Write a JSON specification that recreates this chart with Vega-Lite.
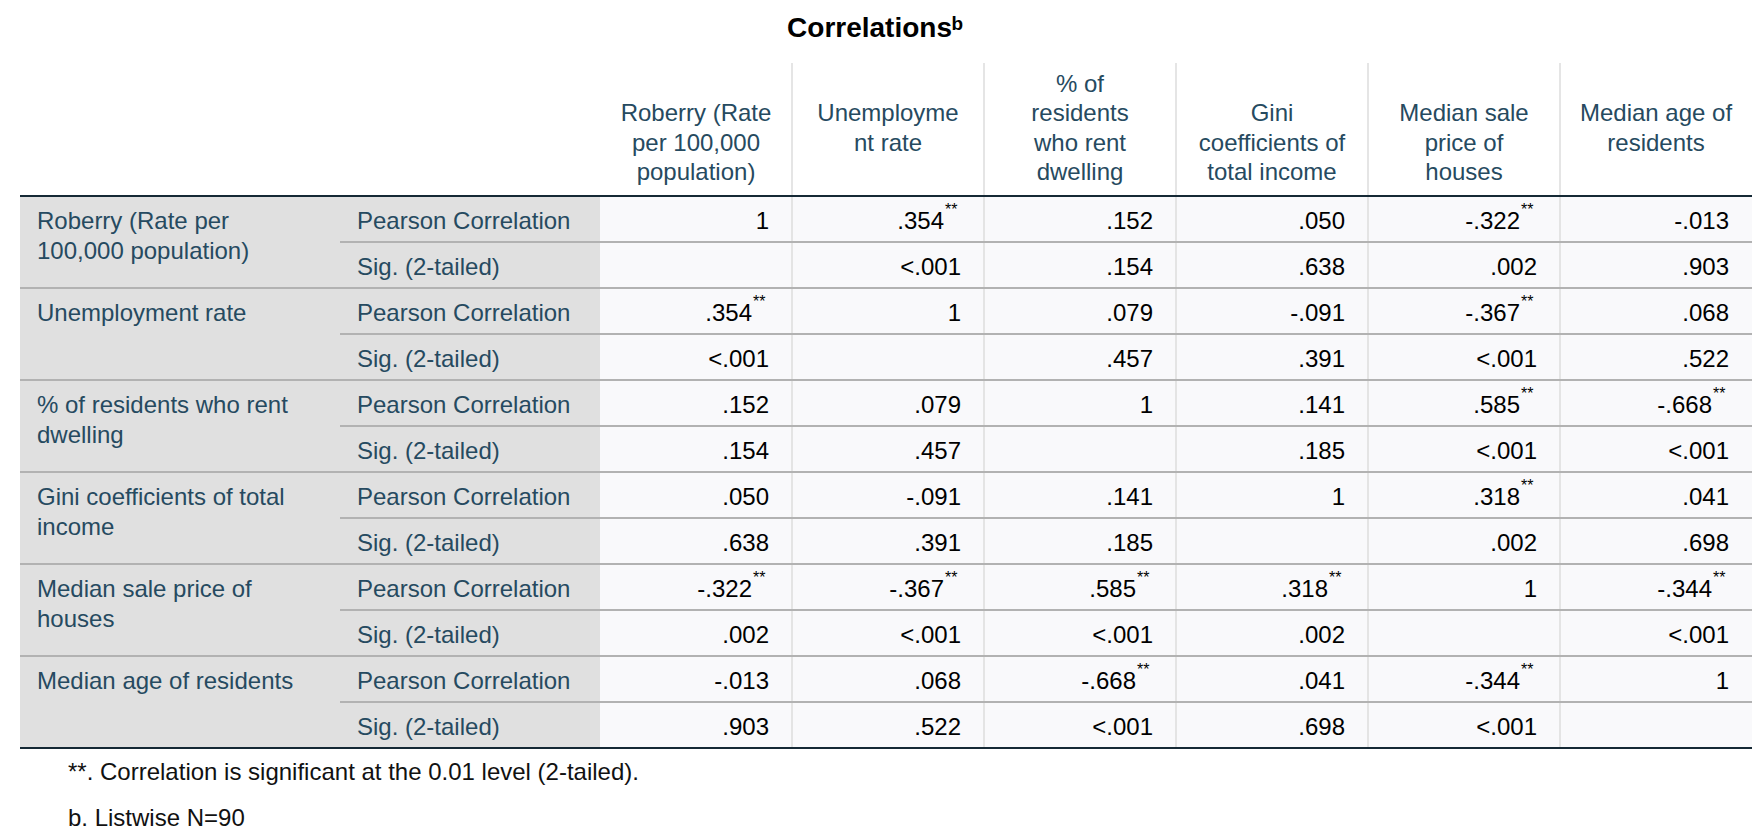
{
  "$schema": "https://vega.github.io/schema/vega-lite/v6.json",
  "width": 1764,
  "height": 780,
  "padding": {"top": 60, "left": 0, "right": 0, "bottom": 0},
  "autosize": {"type": "none"},
  "background": "#ffffff",
  "config": {"view": {"stroke": null}, "font": "Liberation Sans"},
  "title": {"text": "Correlationsᵇ", "font": "Liberation Sans", "fontSize": 28, "fontWeight": "bold", "color": "#000000", "anchor": "middle", "baseline": "alphabetic", "offset": 23, "dx": -7, "dy": 28},
  "datasets": {
    "cells": [
      {"r": 0, "c": 0, "v": "1"}, {"r": 0, "c": 1, "v": ".354", "s": "**"}, {"r": 0, "c": 2, "v": ".152"}, {"r": 0, "c": 3, "v": ".050"}, {"r": 0, "c": 4, "v": "-.322", "s": "**"}, {"r": 0, "c": 5, "v": "-.013"},
      {"r": 1, "c": 1, "v": "<.001"}, {"r": 1, "c": 2, "v": ".154"}, {"r": 1, "c": 3, "v": ".638"}, {"r": 1, "c": 4, "v": ".002"}, {"r": 1, "c": 5, "v": ".903"},
      {"r": 2, "c": 0, "v": ".354", "s": "**"}, {"r": 2, "c": 1, "v": "1"}, {"r": 2, "c": 2, "v": ".079"}, {"r": 2, "c": 3, "v": "-.091"}, {"r": 2, "c": 4, "v": "-.367", "s": "**"}, {"r": 2, "c": 5, "v": ".068"},
      {"r": 3, "c": 0, "v": "<.001"}, {"r": 3, "c": 2, "v": ".457"}, {"r": 3, "c": 3, "v": ".391"}, {"r": 3, "c": 4, "v": "<.001"}, {"r": 3, "c": 5, "v": ".522"},
      {"r": 4, "c": 0, "v": ".152"}, {"r": 4, "c": 1, "v": ".079"}, {"r": 4, "c": 2, "v": "1"}, {"r": 4, "c": 3, "v": ".141"}, {"r": 4, "c": 4, "v": ".585", "s": "**"}, {"r": 4, "c": 5, "v": "-.668", "s": "**"},
      {"r": 5, "c": 0, "v": ".154"}, {"r": 5, "c": 1, "v": ".457"}, {"r": 5, "c": 3, "v": ".185"}, {"r": 5, "c": 4, "v": "<.001"}, {"r": 5, "c": 5, "v": "<.001"},
      {"r": 6, "c": 0, "v": ".050"}, {"r": 6, "c": 1, "v": "-.091"}, {"r": 6, "c": 2, "v": ".141"}, {"r": 6, "c": 3, "v": "1"}, {"r": 6, "c": 4, "v": ".318", "s": "**"}, {"r": 6, "c": 5, "v": ".041"},
      {"r": 7, "c": 0, "v": ".638"}, {"r": 7, "c": 1, "v": ".391"}, {"r": 7, "c": 2, "v": ".185"}, {"r": 7, "c": 4, "v": ".002"}, {"r": 7, "c": 5, "v": ".698"},
      {"r": 8, "c": 0, "v": "-.322", "s": "**"}, {"r": 8, "c": 1, "v": "-.367", "s": "**"}, {"r": 8, "c": 2, "v": ".585", "s": "**"}, {"r": 8, "c": 3, "v": ".318", "s": "**"}, {"r": 8, "c": 4, "v": "1"}, {"r": 8, "c": 5, "v": "-.344", "s": "**"},
      {"r": 9, "c": 0, "v": ".002"}, {"r": 9, "c": 1, "v": "<.001"}, {"r": 9, "c": 2, "v": "<.001"}, {"r": 9, "c": 3, "v": ".002"}, {"r": 9, "c": 5, "v": "<.001"},
      {"r": 10, "c": 0, "v": "-.013"}, {"r": 10, "c": 1, "v": ".068"}, {"r": 10, "c": 2, "v": "-.668", "s": "**"}, {"r": 10, "c": 3, "v": ".041"}, {"r": 10, "c": 4, "v": "-.344", "s": "**"}, {"r": 10, "c": 5, "v": "1"},
      {"r": 11, "c": 0, "v": ".903"}, {"r": 11, "c": 1, "v": ".522"}, {"r": 11, "c": 2, "v": "<.001"}, {"r": 11, "c": 3, "v": ".698"}, {"r": 11, "c": 4, "v": "<.001"}
    ],
    "headers": [
      {"c": 0, "label": ["", "Roberry (Rate", "per 100,000", "population)"]},
      {"c": 1, "label": ["", "", "Unemployme", "nt rate"]},
      {"c": 2, "label": ["% of", "residents", "who rent", "dwelling"]},
      {"c": 3, "label": ["", "Gini", "coefficients of", "total income"]},
      {"c": 4, "label": ["", "Median sale", "price of", "houses"]},
      {"c": 5, "label": ["", "", "Median age of", "residents"]}
    ],
    "rowlabels": [
      {"r": 0, "label": ["Roberry (Rate per", "100,000 population)"]},
      {"r": 2, "label": ["Unemployment rate"]},
      {"r": 4, "label": ["% of residents who rent", "dwelling"]},
      {"r": 6, "label": ["Gini coefficients of total", "income"]},
      {"r": 8, "label": ["Median sale price of", "houses"]},
      {"r": 10, "label": ["Median age of residents"]}
    ],
    "stats": [
      {"r": 0, "t": "Pearson Correlation"}, {"r": 1, "t": "Sig. (2-tailed)"},
      {"r": 2, "t": "Pearson Correlation"}, {"r": 3, "t": "Sig. (2-tailed)"},
      {"r": 4, "t": "Pearson Correlation"}, {"r": 5, "t": "Sig. (2-tailed)"},
      {"r": 6, "t": "Pearson Correlation"}, {"r": 7, "t": "Sig. (2-tailed)"},
      {"r": 8, "t": "Pearson Correlation"}, {"r": 9, "t": "Sig. (2-tailed)"},
      {"r": 10, "t": "Pearson Correlation"}, {"r": 11, "t": "Sig. (2-tailed)"}
    ],
    "notes": [
      {"r": 12, "t": "**. Correlation is significant at the 0.01 level (2-tailed)."},
      {"r": 13, "t": "b. Listwise N=90"}
    ]
  },
  "layer": [
    {
      "data": {"values": [{}]},
      "mark": {"type": "rect", "fill": "#e0e0e0"},
      "encoding": {
        "x": {"datum": -2, "type": "quantitative", "axis": null, "scale": {"type": "linear", "domain": [-2, -1, 0, 6], "range": [20, 340, 600, 1752], "nice": false, "zero": false}},
        "x2": {"datum": 0},
        "y": {"datum": 0, "type": "quantitative", "axis": null, "scale": {"type": "linear", "domain": [-1, 0, 12], "range": [3, 136, 688], "nice": false, "zero": false}},
        "y2": {"datum": 12}
      }
    },
    {
      "data": {"values": [{}]},
      "mark": {"type": "rect", "fill": "#f9f9fb"},
      "encoding": {
        "x": {"datum": 0, "type": "quantitative", "axis": null, "scale": {"type": "linear", "domain": [-2, -1, 0, 6], "range": [20, 340, 600, 1752], "nice": false, "zero": false}},
        "x2": {"datum": 6},
        "y": {"datum": 0, "type": "quantitative", "axis": null, "scale": {"type": "linear", "domain": [-1, 0, 12], "range": [3, 136, 688], "nice": false, "zero": false}},
        "y2": {"datum": 12}
      }
    },
    {
      "data": {"values": [{"c": 1}, {"c": 2}, {"c": 3}, {"c": 4}, {"c": 5}]},
      "mark": {"type": "rule", "stroke": "#dcdcdc", "strokeWidth": 1.5},
      "encoding": {
        "x": {"field": "c", "type": "quantitative", "axis": null, "scale": {"type": "linear", "domain": [-2, -1, 0, 6], "range": [20, 340, 600, 1752], "nice": false, "zero": false}},
        "y": {"datum": -1, "type": "quantitative", "axis": null, "scale": {"type": "linear", "domain": [-1, 0, 12], "range": [3, 136, 688], "nice": false, "zero": false}},
        "y2": {"datum": 12}
      }
    },
    {
      "data": {"values": [{"r": 1}, {"r": 3}, {"r": 5}, {"r": 7}, {"r": 9}, {"r": 11}]},
      "mark": {"type": "rule", "stroke": "#b2b2b2", "strokeWidth": 2},
      "encoding": {
        "x": {"datum": -1, "type": "quantitative", "axis": null, "scale": {"type": "linear", "domain": [-2, -1, 0, 6], "range": [20, 340, 600, 1752], "nice": false, "zero": false}},
        "x2": {"datum": 6},
        "y": {"field": "r", "type": "quantitative", "axis": null, "scale": {"type": "linear", "domain": [-1, 0, 12], "range": [3, 136, 688], "nice": false, "zero": false}}
      }
    },
    {
      "data": {"values": [{"r": 2}, {"r": 4}, {"r": 6}, {"r": 8}, {"r": 10}]},
      "mark": {"type": "rule", "stroke": "#b2b2b2", "strokeWidth": 2},
      "encoding": {
        "x": {"datum": -2, "type": "quantitative", "axis": null, "scale": {"type": "linear", "domain": [-2, -1, 0, 6], "range": [20, 340, 600, 1752], "nice": false, "zero": false}},
        "x2": {"datum": 6},
        "y": {"field": "r", "type": "quantitative", "axis": null, "scale": {"type": "linear", "domain": [-1, 0, 12], "range": [3, 136, 688], "nice": false, "zero": false}}
      }
    },
    {
      "data": {"values": [{"r": 0}, {"r": 12}]},
      "mark": {"type": "rule", "stroke": "#152935", "strokeWidth": 2.2},
      "encoding": {
        "x": {"datum": -2, "type": "quantitative", "axis": null, "scale": {"type": "linear", "domain": [-2, -1, 0, 6], "range": [20, 340, 600, 1752], "nice": false, "zero": false}},
        "x2": {"datum": 6},
        "y": {"field": "r", "type": "quantitative", "axis": null, "scale": {"type": "linear", "domain": [-1, 0, 12], "range": [3, 136, 688], "nice": false, "zero": false}}
      }
    },
    {
      "data": {"name": "headers"},
      "mark": {"type": "text", "align": "center", "baseline": "alphabetic", "dx": 96, "dy": -104.5, "fontSize": 24, "lineHeight": 29.5, "color": "#264a60", "font": "Liberation Sans"},
      "encoding": {
        "x": {"field": "c", "type": "quantitative", "axis": null, "scale": {"type": "linear", "domain": [-2, -1, 0, 6], "range": [20, 340, 600, 1752], "nice": false, "zero": false}},
        "y": {"datum": 0, "type": "quantitative", "axis": null, "scale": {"type": "linear", "domain": [-1, 0, 12], "range": [3, 136, 688], "nice": false, "zero": false}},
        "text": {"field": "label"}
      }
    },
    {
      "data": {"name": "rowlabels"},
      "mark": {"type": "text", "align": "left", "baseline": "alphabetic", "dx": 17, "dy": 33, "fontSize": 24, "lineHeight": 29.5, "color": "#264a60", "font": "Liberation Sans"},
      "encoding": {
        "x": {"datum": -2, "type": "quantitative", "axis": null, "scale": {"type": "linear", "domain": [-2, -1, 0, 6], "range": [20, 340, 600, 1752], "nice": false, "zero": false}},
        "y": {"field": "r", "type": "quantitative", "axis": null, "scale": {"type": "linear", "domain": [-1, 0, 12], "range": [3, 136, 688], "nice": false, "zero": false}},
        "text": {"field": "label"}
      }
    },
    {
      "data": {"name": "stats"},
      "mark": {"type": "text", "align": "left", "baseline": "alphabetic", "dx": 17, "dy": 33, "fontSize": 24, "color": "#264a60", "font": "Liberation Sans"},
      "encoding": {
        "x": {"datum": -1, "type": "quantitative", "axis": null, "scale": {"type": "linear", "domain": [-2, -1, 0, 6], "range": [20, 340, 600, 1752], "nice": false, "zero": false}},
        "y": {"field": "r", "type": "quantitative", "axis": null, "scale": {"type": "linear", "domain": [-1, 0, 12], "range": [3, 136, 688], "nice": false, "zero": false}},
        "text": {"field": "t"}
      }
    },
    {
      "data": {"name": "cells"},
      "transform": [{"filter": "!datum.s"}],
      "mark": {"type": "text", "align": "right", "baseline": "alphabetic", "dx": 169, "dy": 33, "fontSize": 24, "color": "#000000", "font": "Liberation Sans"},
      "encoding": {
        "x": {"field": "c", "type": "quantitative", "axis": null, "scale": {"type": "linear", "domain": [-2, -1, 0, 6], "range": [20, 340, 600, 1752], "nice": false, "zero": false}},
        "y": {"field": "r", "type": "quantitative", "axis": null, "scale": {"type": "linear", "domain": [-1, 0, 12], "range": [3, 136, 688], "nice": false, "zero": false}},
        "text": {"field": "v"}
      }
    },
    {
      "data": {"name": "cells"},
      "transform": [{"filter": "datum.s"}],
      "mark": {"type": "text", "align": "right", "baseline": "alphabetic", "dx": 152, "dy": 33, "fontSize": 24, "color": "#000000", "font": "Liberation Sans"},
      "encoding": {
        "x": {"field": "c", "type": "quantitative", "axis": null, "scale": {"type": "linear", "domain": [-2, -1, 0, 6], "range": [20, 340, 600, 1752], "nice": false, "zero": false}},
        "y": {"field": "r", "type": "quantitative", "axis": null, "scale": {"type": "linear", "domain": [-1, 0, 12], "range": [3, 136, 688], "nice": false, "zero": false}},
        "text": {"field": "v"}
      }
    },
    {
      "data": {"name": "cells"},
      "transform": [{"filter": "datum.s"}],
      "mark": {"type": "text", "align": "left", "baseline": "alphabetic", "dx": 153, "dy": 19, "fontSize": 16, "color": "#000000", "font": "Liberation Sans"},
      "encoding": {
        "x": {"field": "c", "type": "quantitative", "axis": null, "scale": {"type": "linear", "domain": [-2, -1, 0, 6], "range": [20, 340, 600, 1752], "nice": false, "zero": false}},
        "y": {"field": "r", "type": "quantitative", "axis": null, "scale": {"type": "linear", "domain": [-1, 0, 12], "range": [3, 136, 688], "nice": false, "zero": false}},
        "text": {"field": "s"}
      }
    },
    {
      "data": {"name": "notes"},
      "mark": {"type": "text", "align": "left", "baseline": "alphabetic", "dx": 48, "dy": 32, "fontSize": 24, "color": "#111111", "font": "Liberation Sans"},
      "encoding": {
        "x": {"datum": -2, "type": "quantitative", "axis": null, "scale": {"type": "linear", "domain": [-2, -1, 0, 6], "range": [20, 340, 600, 1752], "nice": false, "zero": false}},
        "y": {"field": "r", "type": "quantitative", "axis": null, "scale": {"type": "linear", "domain": [-1, 0, 12], "range": [3, 136, 688], "nice": false, "zero": false}},
        "text": {"field": "t"}
      }
    }
  ]
}
